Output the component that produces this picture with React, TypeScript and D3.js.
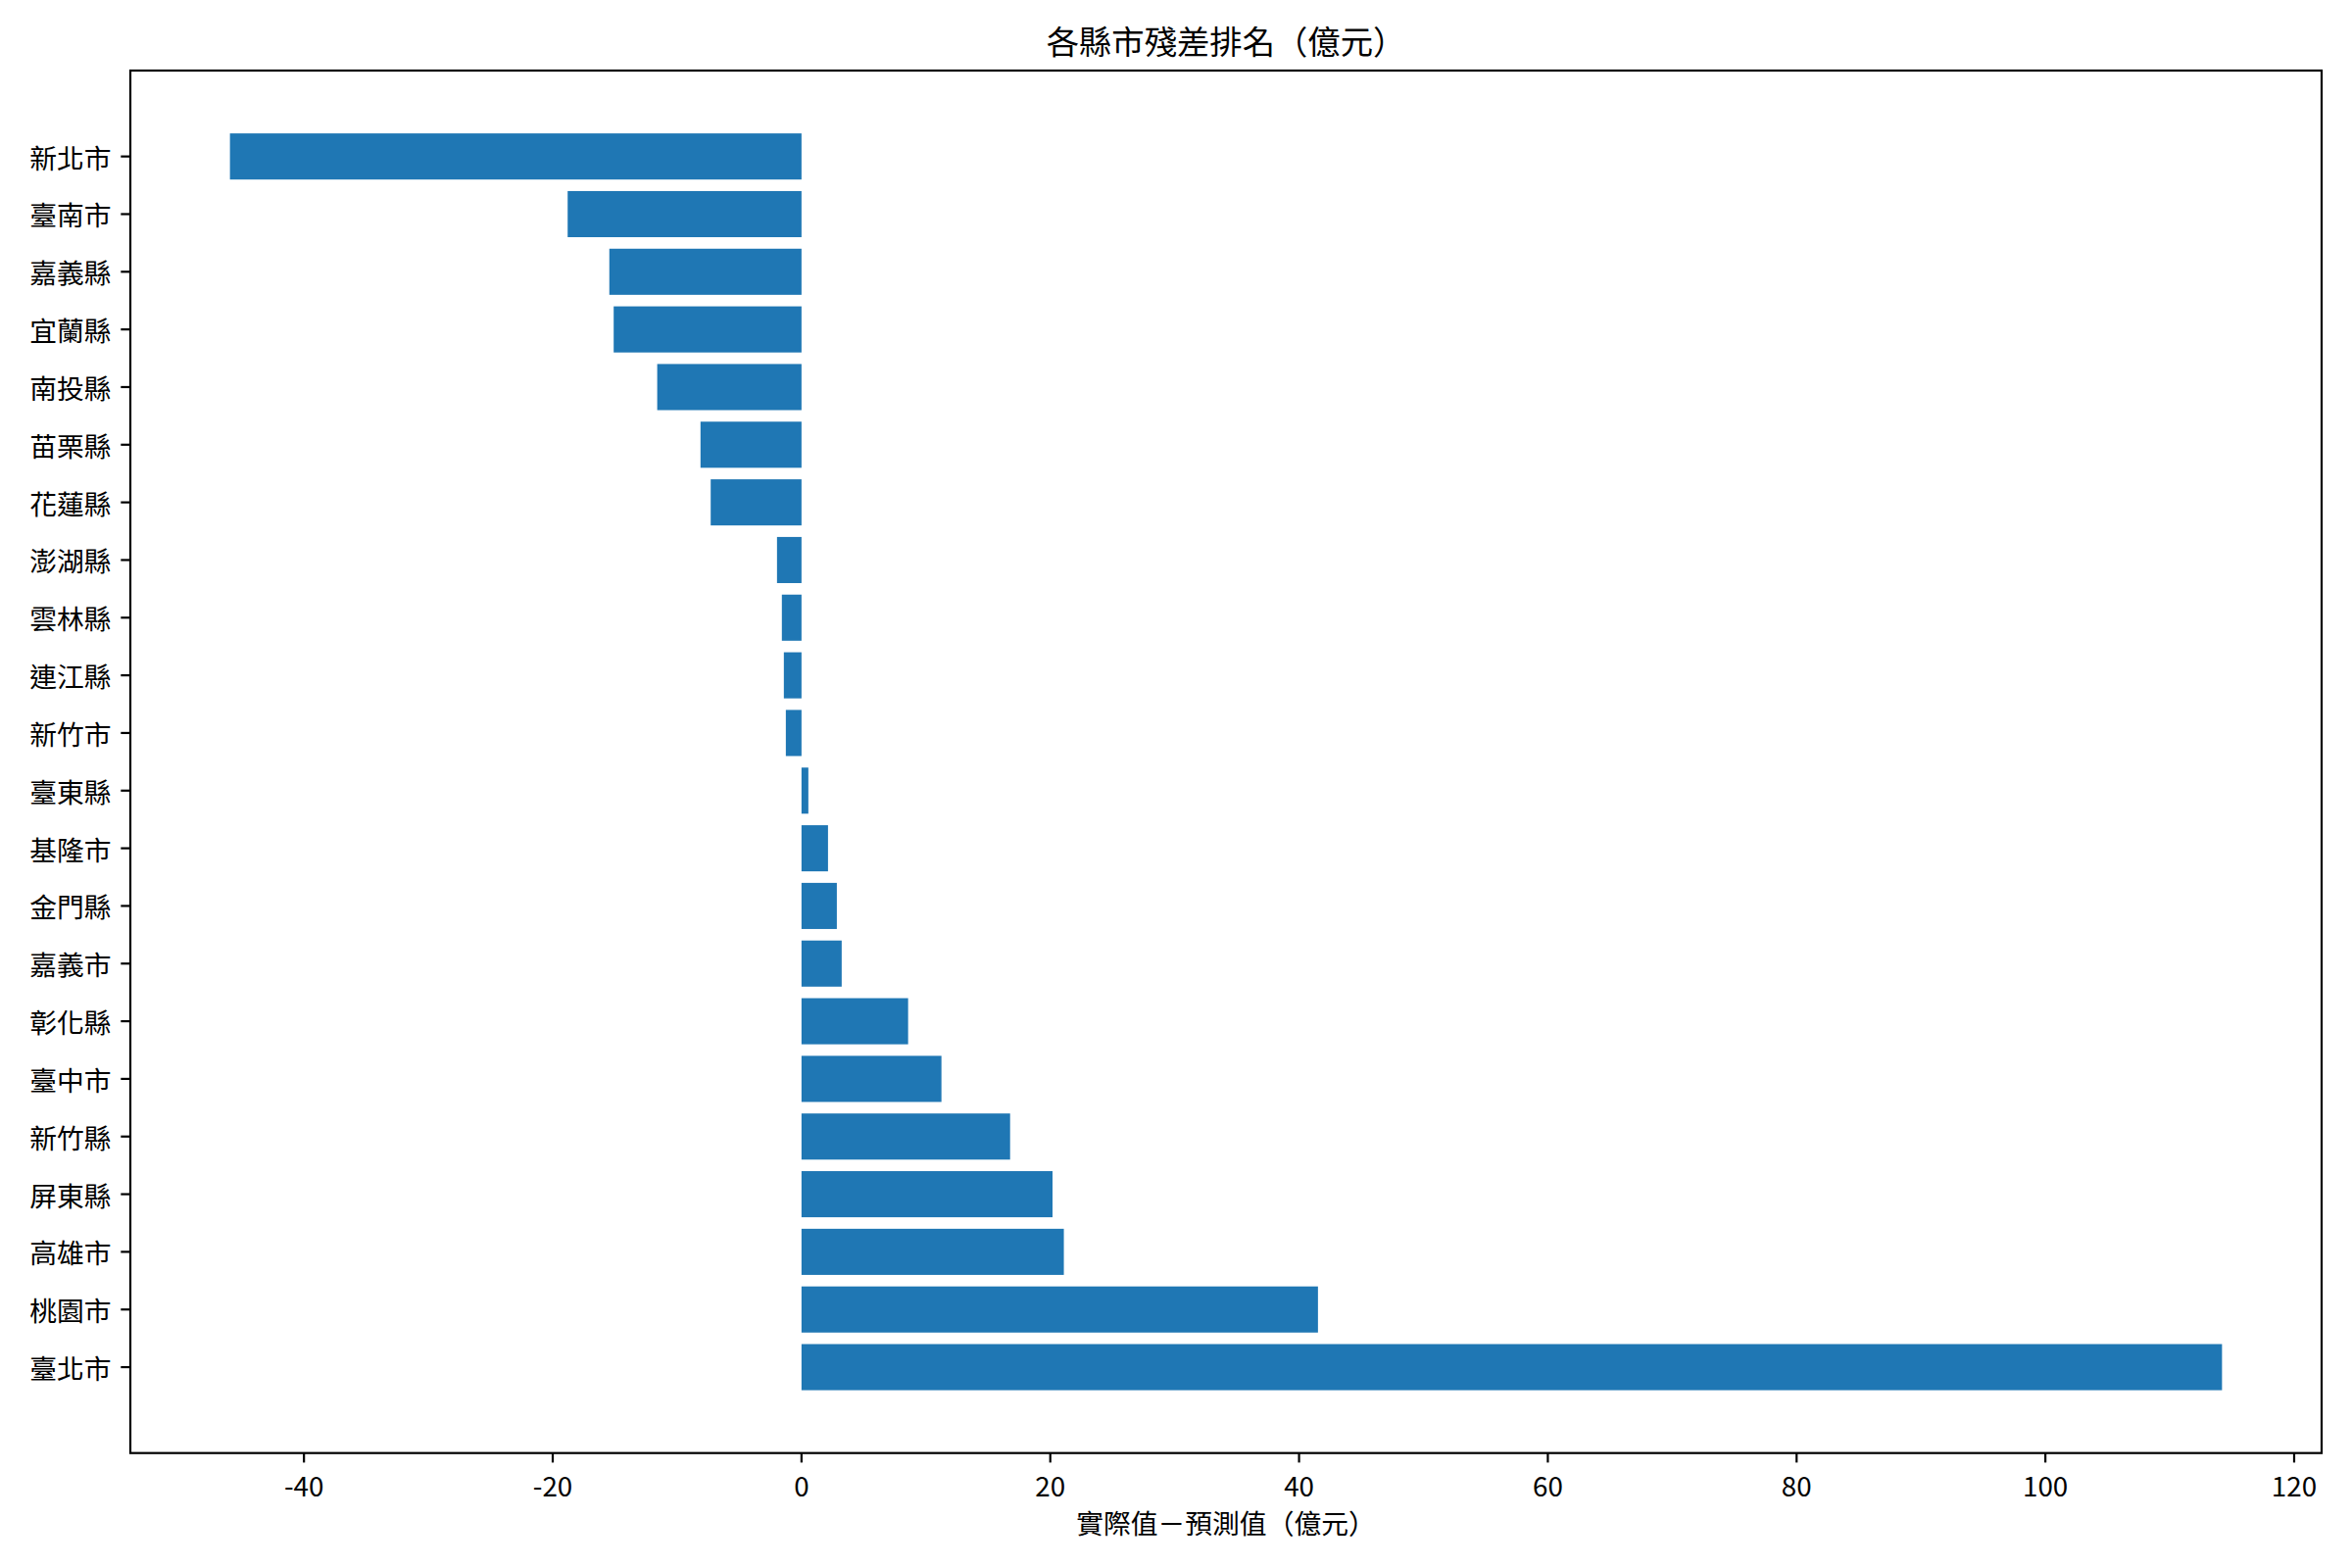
import * as d3 from 'd3';

// Residual ranking per county/city (actual - predicted, 100M NTD)
const counties = [
  '新北市', '臺南市', '嘉義縣', '宜蘭縣', '南投縣', '苗栗縣', '花蓮縣', '澎湖縣',
  '雲林縣', '連江縣', '新竹市', '臺東縣', '基隆市', '金門縣', '嘉義市', '彰化縣',
  '臺中市', '新竹縣', '屏東縣', '高雄市', '桃園市', '臺北市',
];
const residuals = [
  -45.95, -18.8, -15.45, -15.1, -11.6, -8.12, -7.3, -1.97,
  -1.58, -1.42, -1.26, 0.55, 2.13, 2.84, 3.23, 8.57,
  11.25, 16.77, 20.18, 21.09, 41.52, 114.2,
];
const xTicks = [-40, -20, 0, 20, 40, 60, 80, 100, 120];

const title = '各縣市殘差排名（億元）';
const xLabel = '實際值－預測值（億元）';

const W = 2400;
const H = 1600;
const margin = { top: 72, right: 31, bottom: 117.3, left: 133 };
const FONT = '"Noto Sans CJK TC", "Noto Sans CJK SC", "Noto Sans", sans-serif';
const BAR = '#1f77b4';
const tickFs = 27.78;
const titleFs = 33.33;
const tickLen = 9.7;
const lw = 2.2;

export default function App() {
  const x0 = margin.left;
  const x1 = W - margin.right;
  const y0 = margin.top;
  const y1 = H - margin.bottom;

  const lo = d3.min(residuals) as number;
  const hi = d3.max(residuals) as number;
  const pad = (hi - lo) * 0.05;
  const x = d3.scaleLinear().domain([lo - pad, hi + pad]).range([x0, x1]);

  const y = d3
    .scaleBand<string>()
    .domain(counties)
    .range([y0, y1])
    .paddingInner(0.2)
    .paddingOuter(1.09);

  return (
    <svg
      width={W}
      height={H}
      style={{ position: 'absolute', left: 0, top: 0, background: '#fff' }}
      fontFamily={FONT}
    >
      <rect x={0} y={0} width={W} height={H} fill="#fff" />

      {counties.map((c, i) => {
        const v = residuals[i];
        return (
          <rect
            key={c}
            x={x(Math.min(0, v))}
            y={y(c)}
            width={Math.abs(x(v) - x(0))}
            height={y.bandwidth()}
            fill={BAR}
          />
        );
      })}

      {/* y ticks */}
      {counties.map(c => {
        const cy = (y(c) as number) + y.bandwidth() / 2;
        return (
          <g key={'yt' + c}>
            <line x1={x0 - tickLen} x2={x0} y1={cy} y2={cy} stroke="#000" strokeWidth={lw} />
            <text
              x={x0 - tickLen - 9.7}
              y={cy}
              textAnchor="end"
              dominantBaseline="central"
              fontSize={tickFs}
              fill="#000"
            >
              {c}
            </text>
          </g>
        );
      })}

      {/* x ticks */}
      {xTicks.map(t => (
        <g key={'xt' + t}>
          <line x1={x(t)} x2={x(t)} y1={y1} y2={y1 + tickLen} stroke="#000" strokeWidth={lw} />
          <text x={x(t)} y={y1 + 44} textAnchor="middle" fontSize={tickFs} fill="#000">
            {t < 0 ? '-' + Math.abs(t) : String(t)}
          </text>
        </g>
      ))}

      {/* spines */}
      <rect
        x={x0}
        y={y0}
        width={x1 - x0}
        height={y1 - y0}
        fill="none"
        stroke="#000"
        strokeWidth={lw}
      />

      <text x={(x0 + x1) / 2} y={y0 - 17} textAnchor="middle" fontSize={titleFs} fill="#000">
        {title}
      </text>
      <text x={(x0 + x1) / 2} y={1565} textAnchor="middle" fontSize={tickFs} fill="#000">
        {xLabel}
      </text>
    </svg>
  );
}
